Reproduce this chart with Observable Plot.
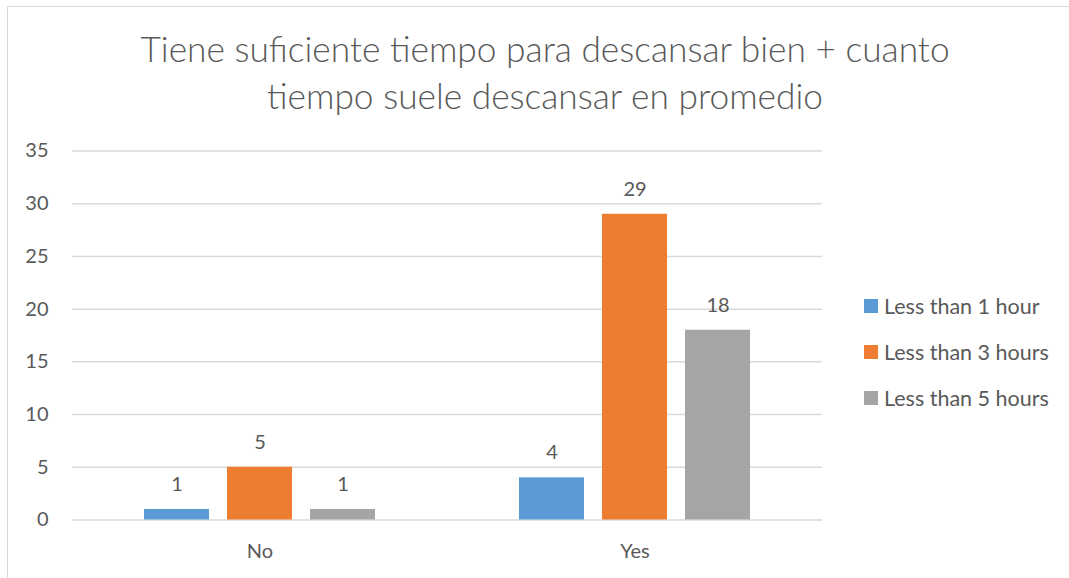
<!DOCTYPE html>
<html>
<head>
<meta charset="utf-8">
<script src="https://cdn.jsdelivr.net/npm/d3@7"></script>
<script src="https://cdn.jsdelivr.net/npm/@observablehq/plot@0.6"></script>
<style>
  html, body { margin: 0; padding: 0; background: #fff; }
  #wrap { position: relative; width: 1069px; height: 578px; overflow: hidden; font-family: Lato, sans-serif; color: #595959; }
  #frame { position: absolute; left: 7px; top: 6px; width: 1200px; height: 700px; border: 1.5px solid #d9d9d9; box-sizing: border-box; }
  #title { position: absolute; left: 0; width: 1090px; top: 25px; text-align: center; font-size: 35.3px; font-weight: 300; line-height: 47px; color: #595959; }
  #chart { position: absolute; left: 0; top: 0; }
  #legend { position: absolute; left: 864px; top: 283px; font-size: 21.5px; }
  .li { display: flex; align-items: center; height: 46px; margin-top: 0; }
  .sw { width: 14px; height: 14px; margin-right: 6px; }
</style>
</head>
<body>
<div id="wrap">
  <div id="frame"></div>
  <div id="chart"></div>
  <div id="title">Tiene suficiente tiempo para descansar bien + cuanto<br>tiempo suele descansar en promedio</div>
  <div id="legend"></div>
</div>
<script>
const categories = ["No", "Yes"];
const series = ["Less than 1 hour", "Less than 3 hours", "Less than 5 hours"];
const colors = ["#5B9BD5", "#ED7D31", "#A5A5A5"];
const valuesNo = [1, 5, 1];
const valuesYes = [4, 29, 18];
const yTicks = [0, 5, 10, 15, 20, 25, 30, 35];

const data = [];
[valuesNo, valuesYes].forEach((vals, i) => {
  vals.forEach((v, j) => data.push({cat: categories[i], series: series[j], value: v}));
});

const chart = Plot.plot({
  width: 1069,
  height: 578,
  marginLeft: 72,
  marginRight: 247,
  marginTop: 150.5,
  marginBottom: 58.5,
  style: {fontFamily: "Lato, sans-serif", fontSize: "20px", color: "#595959", background: "transparent"},
  fx: {domain: categories, padding: 0, axis: "bottom", label: null, tickSize: 0, tickPadding: 24},
  x: {domain: series, axis: null, paddingInner: 0.211, paddingOuter: 0.864},
  y: {domain: [0, 35], ticks: yTicks, tickSize: 0, tickPadding: 24, label: null},
  color: {domain: series, range: colors},
  marks: [
    Plot.ruleY(yTicks, {stroke: "#d9d9d9", strokeWidth: 1.5}),
    Plot.barY(data, {fx: "cat", x: "series", y: "value", fill: "series"}),
    Plot.text(data, {fx: "cat", x: "series", y: "value", text: d => String(d.value), dy: -25, fill: "#595959", fontSize: 20})
  ]
});
document.getElementById("chart").appendChild(chart);

const legend = document.getElementById("legend");
series.forEach((s, i) => {
  const row = document.createElement("div");
  row.className = "li";
  row.innerHTML = `<div class="sw" style="background:${colors[i]}"></div><span>${s}</span>`;
  legend.appendChild(row);
});
</script>
</body>
</html>
